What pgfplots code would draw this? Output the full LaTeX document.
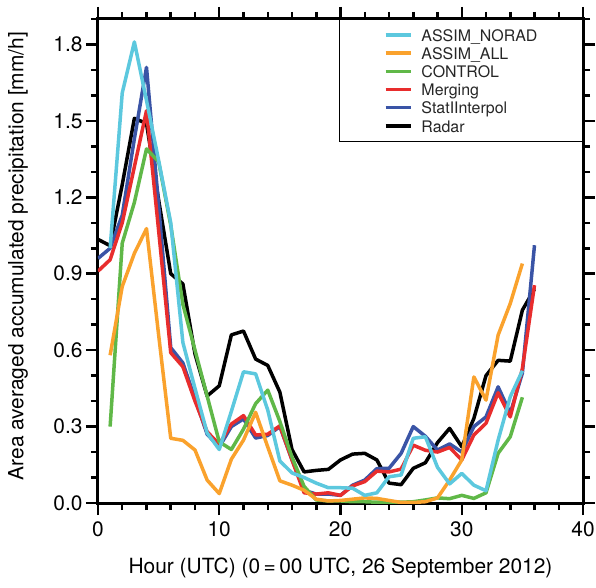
\documentclass[border=0pt]{standalone}
\usepackage{pgfplots}
\pgfplotsset{compat=1.18}
\usepackage{fontspec}
\setmainfont{TeX Gyre Heros}
\definecolor{cNorad}{RGB}{92,200,222}
\definecolor{cAll}{RGB}{250,162,45}
\definecolor{cCtrl}{RGB}{96,184,72}
\definecolor{cMerg}{RGB}{232,45,45}
\definecolor{cStat}{RGB}{58,84,166}
\begin{document}
\begin{tikzpicture}
\begin{axis}[
  at={(0,0)}, anchor=south west,
  scale only axis, width=485bp, height=484bp,
  xmin=0, xmax=40, ymin=0, ymax=1.9,
  xtick={0,10,20,30,40}, minor x tick num=4,
  ytick={0,0.3,0.6,0.9,1.2,1.5,1.8},
  minor ytick={0.1,0.2,0.4,0.5,0.7,0.8,1.0,1.1,1.3,1.4,1.6,1.7,1.9},
  tick align=outside,
  major tick length=12bp, minor tick length=7bp,
  every tick/.style={black, line width=2.5bp},
  axis line style={line width=3bp},
  /pgf/number format/assume math mode=true,
  yticklabel style={/pgf/number format/.cd, fixed, fixed zerofill, precision=1},
  xticklabel style={yshift=-3bp},
  tick label style={font=\fontsize{21}{25}\selectfont},
  xlabel={Hour (UTC) (0\,=\,00 UTC, 26 September 2012)},
  ylabel={Area averaged accumulated precipitation [mm/h]},
  every axis x label/.style={at={(axis description cs:0.5,-0.134)}, anchor=center, font=\fontsize{21}{25}\selectfont},
  every axis y label/.style={at={(axis description cs:-0.165,0.51)}, anchor=center, rotate=90, font=\fontsize{21}{25}\selectfont},
  reverse legend,
  legend image code/.code={\draw[#1, line width=3.5bp] (0bp,0bp) -- (25bp,0bp);},
  legend style={at={(1,1)}, anchor=north east, draw=black, line width=1bp,
    inner xsep=44bp, inner ysep=6.7bp, column sep=8bp, row sep=0.7bp,
    font=\fontsize{16}{18}\selectfont, text=black!85,
    nodes={inner sep=1bp, text height=14bp, text depth=1.5bp}},
  legend cell align=left,
  every axis plot/.append style={line width=3.5bp, line join=round, mark=none},
]
% Radar
\addplot[black] coordinates {
(0,1.035)(1,1.01)(2,1.25)(3,1.51)(4,1.49)(5,1.19)(6,0.90)(7,0.86)(8,0.585)(9,0.42)
(10,0.46)(11,0.66)(12,0.675)(13,0.565)(14,0.54)(15,0.435)(16,0.21)(17,0.122)(18,0.128)(19,0.132)
(20,0.169)(21,0.192)(22,0.195)(23,0.169)(24,0.078)(25,0.072)(26,0.136)(27,0.158)(28,0.237)(29,0.293)
(30,0.221)(31,0.332)(32,0.50)(33,0.56)(34,0.557)(35,0.757)(36,0.84)};
% StatIInterpol
\addplot[cStat] coordinates {
(0,0.96)(1,1.00)(2,1.13)(3,1.43)(4,1.71)(5,1.17)(6,0.61)(7,0.55)(8,0.41)(9,0.27)
(10,0.22)(11,0.30)(12,0.33)(13,0.255)(14,0.265)(15,0.30)(16,0.17)(17,0.05)(18,0.035)(19,0.035)
(20,0.03)(21,0.07)(22,0.09)(23,0.135)(24,0.136)(25,0.195)(26,0.30)(27,0.262)(28,0.208)(29,0.232)
(30,0.20)(31,0.30)(32,0.338)(33,0.456)(34,0.352)(35,0.51)(36,1.012)};
% Merging
\addplot[cMerg] coordinates {
(0,0.91)(1,0.955)(2,1.10)(3,1.32)(4,1.54)(5,1.07)(6,0.59)(7,0.535)(8,0.40)(9,0.28)
(10,0.23)(11,0.31)(12,0.343)(13,0.267)(14,0.27)(15,0.303)(16,0.169)(17,0.04)(18,0.035)(19,0.04)
(20,0.03)(21,0.067)(22,0.084)(23,0.125)(24,0.122)(25,0.133)(26,0.227)(27,0.207)(28,0.20)(29,0.218)
(30,0.169)(31,0.267)(32,0.313)(33,0.433)(34,0.338)(35,0.528)(36,0.855)};
% CONTROL
\addplot[cCtrl] coordinates {
(1,0.30)(2,1.02)(3,1.18)(4,1.39)(5,1.34)(6,1.09)(7,0.78)(8,0.60)(9,0.42)
(10,0.24)(11,0.21)(12,0.29)(13,0.39)(14,0.443)(15,0.32)(16,0.18)(17,0.065)(18,0.012)(19,0.008)
(20,0.008)(21,0.005)(22,0.005)(23,0.003)(24,0.003)(25,0.003)(26,0.005)(27,0.012)(28,0.02)(29,0.017)
(30,0.03)(31,0.018)(32,0.04)(33,0.195)(34,0.26)(35,0.415)};
% ASSIM_ALL
\addplot[cAll] coordinates {
(1,0.58)(2,0.85)(3,0.98)(4,1.077)(5,0.66)(6,0.254)(7,0.246)(8,0.208)(9,0.09)
(10,0.037)(11,0.172)(12,0.247)(13,0.356)(14,0.22)(15,0.087)(16,0.07)(17,0.05)(18,0.015)(19,0.008)
(20,0.01)(21,0.015)(22,0.02)(23,0.018)(24,0.01)(25,0.002)(26,0.002)(27,0.005)(28,0.02)(29,0.09)
(30,0.169)(31,0.495)(32,0.404)(33,0.659)(34,0.783)(35,0.94)};
% ASSIM_NORAD
\addplot[cNorad] coordinates {
(1,1.00)(2,1.61)(3,1.81)(4,1.58)(5,1.345)(6,1.10)(7,0.63)(8,0.45)(9,0.275)
(10,0.21)(11,0.36)(12,0.515)(13,0.507)(14,0.365)(15,0.165)(16,0.118)(17,0.10)(18,0.078)(19,0.06)
(20,0.06)(21,0.058)(22,0.03)(23,0.04)(24,0.103)(25,0.11)(26,0.254)(27,0.26)(28,0.14)(29,0.075)
(30,0.116)(31,0.07)(32,0.048)(33,0.247)(34,0.417)(35,0.519)};
\legend{Radar,StatIInterpol,Merging,CONTROL,ASSIM\_ALL,ASSIM\_NORAD}
\end{axis}
\pgfresetboundingbox
\path[use as bounding box] (-98bp,-85bp) rectangle (498bp,503bp);
\end{tikzpicture}
\end{document}
